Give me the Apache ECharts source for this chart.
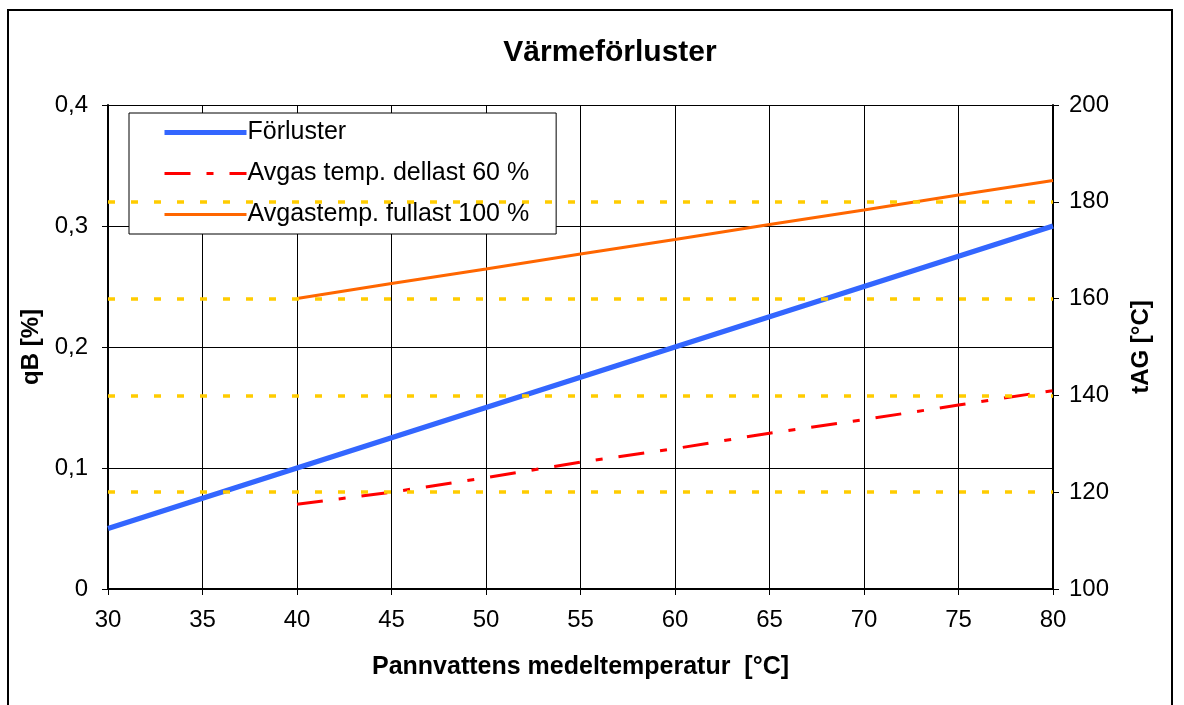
<!DOCTYPE html>
<html>
<head>
<meta charset="utf-8">
<script src="https://cdn.jsdelivr.net/npm/echarts@6/dist/echarts.min.js"></script>
<style>
  html, body { margin: 0; padding: 0; background: #fff; }
  #chart { width: 1184px; height: 705px; }
</style>
</head>
<body>
<div id="chart"></div>
<script>
// x values (Pannvattens medeltemperatur, °C)
const xLoss = [30, 35, 40, 45, 50, 55, 60, 65, 70, 75, 80]
const lossValues = [0.05, 0.075, 0.1, 0.125, 0.15, 0.175, 0.2, 0.225, 0.25, 0.275, 0.3]

const xGas = [40, 45, 50, 55, 60, 65, 70, 75, 80]
const gasPart = [117.5, 120, 123, 126.2, 129, 132.2, 135, 138, 141]
const gasFull = [160, 163.1, 166.1, 169.2, 172.2, 175.3, 178.3, 181.4, 184.4]

// gula streckade hjälplinjer på högeraxeln
const yellowLevels = [120, 140, 160, 180]

const FONT = '"Liberation Sans", Arial, sans-serif'

const pairs = (xs, ys) => xs.map((x, i) => [x, ys[i]])

const chart = echarts.init(document.getElementById('chart'))

chart.setOption({
  animation: false,
  textStyle: { fontFamily: FONT, color: '#000' },
  title: {
    text: 'Värmeförluster',
    left: 605,
    top: 33,
    textAlign: 'center',
    textStyle: { fontFamily: FONT, fontSize: 30, fontWeight: 'bold', color: '#000' }
  },
  grid: { left: 108, right: 131, top: 105, bottom: 116 },
  legend: {
    orient: 'vertical',
    left: 129,
    top: 113,
    padding: [7, 27, 7, 33],
    itemGap: 16,
    itemWidth: 82,
    itemHeight: 22,
    borderColor: '#000',
    borderWidth: 1,
    backgroundColor: '#fff',
    itemStyle: { opacity: 0, borderWidth: 0 },
    textStyle: { fontFamily: FONT, fontSize: 25, color: '#000', padding: [0, 0, 0, -4] },
    data: [
      { name: 'Förluster', lineStyle: { width: 5, color: '#3366ff' } },
      { name: 'Avgas temp. dellast 60 %', lineStyle: { width: 3, color: '#ff0000', type: [26, 16, 7, 16] } },
      { name: 'Avgastemp. fullast 100 %', lineStyle: { width: 3, color: '#ff6600' } }
    ]
  },
  xAxis: {
    type: 'value',
    min: 30,
    max: 80,
    interval: 5,
    name: 'Pannvattens medeltemperatur  [°C]',
    nameLocation: 'middle',
    nameGap: 66,
    nameTextStyle: { fontFamily: FONT, fontSize: 25, fontWeight: 'bold', color: '#000' },
    axisLine: { lineStyle: { color: '#000', width: 2 } },
    axisTick: { length: 6, lineStyle: { color: '#000' } },
    axisLabel: { fontFamily: FONT, fontSize: 24, color: '#000', margin: 19 },
    splitLine: { show: true, lineStyle: { color: '#000', width: 1 } }
  },
  yAxis: [
    {
      type: 'value',
      min: 0,
      max: 0.4,
      interval: 0.1,
      name: 'qB [%]',
      nameLocation: 'middle',
      nameGap: 62,
      nameRotate: 90,
      nameTextStyle: { fontFamily: FONT, fontSize: 24, fontWeight: 'bold', color: '#000' },
      axisLine: { show: true, lineStyle: { color: '#000', width: 2 } },
      axisTick: { show: true, length: 6, lineStyle: { color: '#000' } },
      axisLabel: {
        fontFamily: FONT, fontSize: 24, color: '#000', margin: 20,
        formatter: v => (v === 0 ? '0' : v.toFixed(1).replace('.', ','))
      },
      splitLine: { show: true, lineStyle: { color: '#000', width: 1 } }
    },
    {
      type: 'value',
      min: 100,
      max: 200,
      interval: 20,
      position: 'right',
      name: 'tAG [°C]',
      nameLocation: 'middle',
      nameGap: 76,
      nameRotate: 90,
      nameTextStyle: { fontFamily: FONT, fontSize: 24, fontWeight: 'bold', color: '#000' },
      axisLine: { show: true, lineStyle: { color: '#000', width: 2 } },
      axisTick: { show: true, length: 6, lineStyle: { color: '#000' } },
      axisLabel: { fontFamily: FONT, fontSize: 24, color: '#000', margin: 16 },
      splitLine: { show: false }
    }
  ],
  series: [
    {
      name: 'Avgas temp. dellast 60 %',
      type: 'line',
      yAxisIndex: 1,
      data: pairs(xGas, gasPart),
      symbol: 'none',
      z: 2,
      lineStyle: { color: '#ff0000', width: 3, type: [26, 16, 7, 16] },
      itemStyle: { color: '#ff0000' },
      markLine: {
        silent: true,
        symbol: 'none',
        label: { show: false },
        lineStyle: { color: '#ffcc00', width: 3.5, type: [7, 16] },
        data: yellowLevels.map(v => ({ yAxis: v }))
      }
    },
    {
      name: 'Avgastemp. fullast 100 %',
      type: 'line',
      yAxisIndex: 1,
      data: pairs(xGas, gasFull),
      symbol: 'none',
      z: 3,
      lineStyle: { color: '#ff6600', width: 3 },
      itemStyle: { color: '#ff6600' }
    },
    {
      name: 'Förluster',
      type: 'line',
      yAxisIndex: 0,
      data: pairs(xLoss, lossValues),
      symbol: 'none',
      z: 4,
      lineStyle: { color: '#3366ff', width: 5 },
      itemStyle: { color: '#3366ff' }
    }
  ],
  graphic: [
    {
      type: 'rect',
      shape: { x: 8, y: 10, width: 1164, height: 720 },
      style: { fill: 'none', stroke: '#000', lineWidth: 2 },
      silent: true
    }
  ]
})
</script>
</body>
</html>
